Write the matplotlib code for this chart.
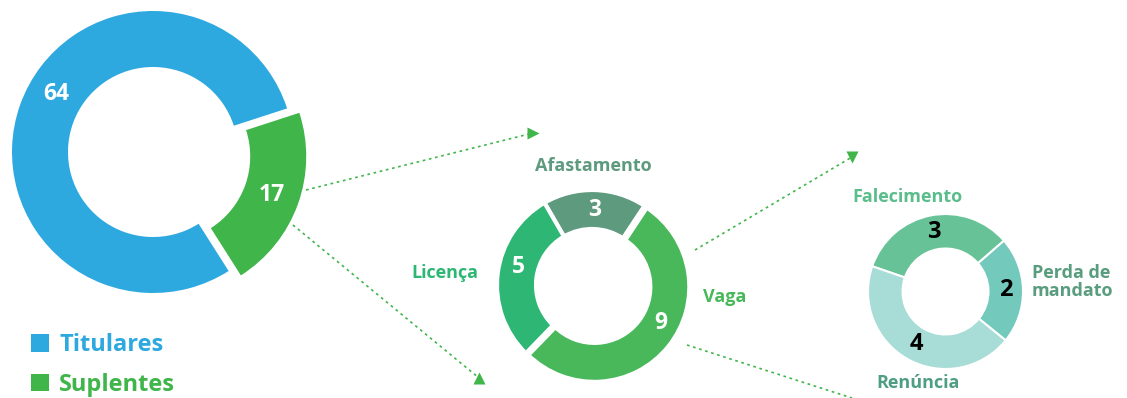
import numpy as np
import matplotlib.pyplot as plt
from matplotlib.patches import Patch

plt.rcParams['font.family'] = ['Open Sans', 'DejaVu Sans']
plt.rcParams['font.weight'] = 'bold'

# dados
tipos = ["Titulares", "Suplentes"]
tipos_val = [64, 17]
suplentes = ["Afastamento", "Licença", "Vaga"]
suplentes_val = [3, 5, 9]
vagas = ["Falecimento", "Renúncia", "Perda de\nmandato"]
vagas_val = [3, 4, 2]

cores_tipos = ["#2ea9e0", "#3fb54a"]
cores_sup = ["#5e9a7d", "#2db674", "#48b85b"]
cores_vag = ["#67c397", "#a7dcd7", "#72c9bc"]

fig = plt.figure(figsize=(11.27, 3.98), dpi=100)
ax = fig.add_axes([0, 0, 1, 1])
H = 398


def donut(vals, cx, cy, R, r, start, cores, explode, lw, num_cor, ajuste, fs):
    w, _ = ax.pie(vals, center=(cx, H - cy), radius=R, startangle=start,
                  colors=cores, explode=explode, counterclock=True, frame=True,
                  wedgeprops=dict(width=R - r, edgecolor="white", linewidth=lw))
    for wd, v, a in zip(w, vals, ajuste):
        ang = np.deg2rad((wd.theta1 + wd.theta2) / 2 + a)
        rr = R - (R - r) / 2
        x0, y0 = wd.center
        ax.text(x0 + rr * np.cos(ang), y0 + rr * np.sin(ang), str(v),
                color=num_cor, fontsize=fs, fontweight="bold",
                ha="center", va="center")
    return w


donut(tipos_val, 153, 152, 141, 85, 18, cores_tipos, [0, 13], 0, "white", [-11, 0], 16.5)
donut(suplentes_val, 592, 285, 95, 56, 56.5, cores_sup, [0, 0, 3], 3, "white", [0, -7, 10], 16.5)
donut(vagas_val, 945.5, 291.5, 77.5, 43, 41, cores_vag, [0, 0, 0], 1.5, "black", [0, 0, 0], 17)

# rotulos das categorias
fs_lab = 13
ax.text(593, H - 166, "Afastamento", color="#5e9a7d", fontsize=fs_lab, ha="center", va="center")
ax.text(445, H - 273, "Licença", color="#2db674", fontsize=fs_lab, ha="center", va="center")
ax.text(725, H - 297, "Vaga", color="#48b85b", fontsize=fs_lab, ha="center", va="center")
ax.text(907, H - 197, "Falecimento", color="#5bbd8b", fontsize=fs_lab, ha="center", va="center")
ax.text(1032, H - 282, "Perda de\nmandato", color="#5a9c7e", fontsize=fs_lab,
        ha="left", va="center", linespacing=1.0)
ax.text(918, H - 383, "Renúncia", color="#4f9e84", fontsize=fs_lab, ha="center", va="center")

# setas pontilhadas
setas = [((306, 190), (533, 133), ">"),
         ((293, 225), (479, 378), "^"),
         ((695, 250), (852, 157), "v"),
         ((687, 345), (852, 398), None)]
verde = "#3fb54a"
for (x1, y1), (x2, y2), mk in setas:
    ax.plot([x1, x2], [H - y1, H - y2], color=verde, lw=1.2, ls=(0, (1.6, 2.2)))
    if mk:
        ax.plot([x2], [H - y2], marker=mk, color=verde, markersize=8, mec="none")

# legenda
handles = [Patch(facecolor=c, edgecolor="none") for c in cores_tipos]
leg = ax.legend(handles, tipos, loc="lower left", bbox_to_anchor=(0.019, -0.02),
                frameon=False, fontsize=17, handlelength=0.75, handleheight=0.75,
                handletextpad=0.45, labelspacing=0.65, labelcolor=cores_tipos,
                borderaxespad=0.0)

ax.set_xlim(0, 1127)
ax.set_ylim(0, H)
ax.set_aspect("equal")
ax.axis("off")
fig.savefig("out.png", dpi=100)
